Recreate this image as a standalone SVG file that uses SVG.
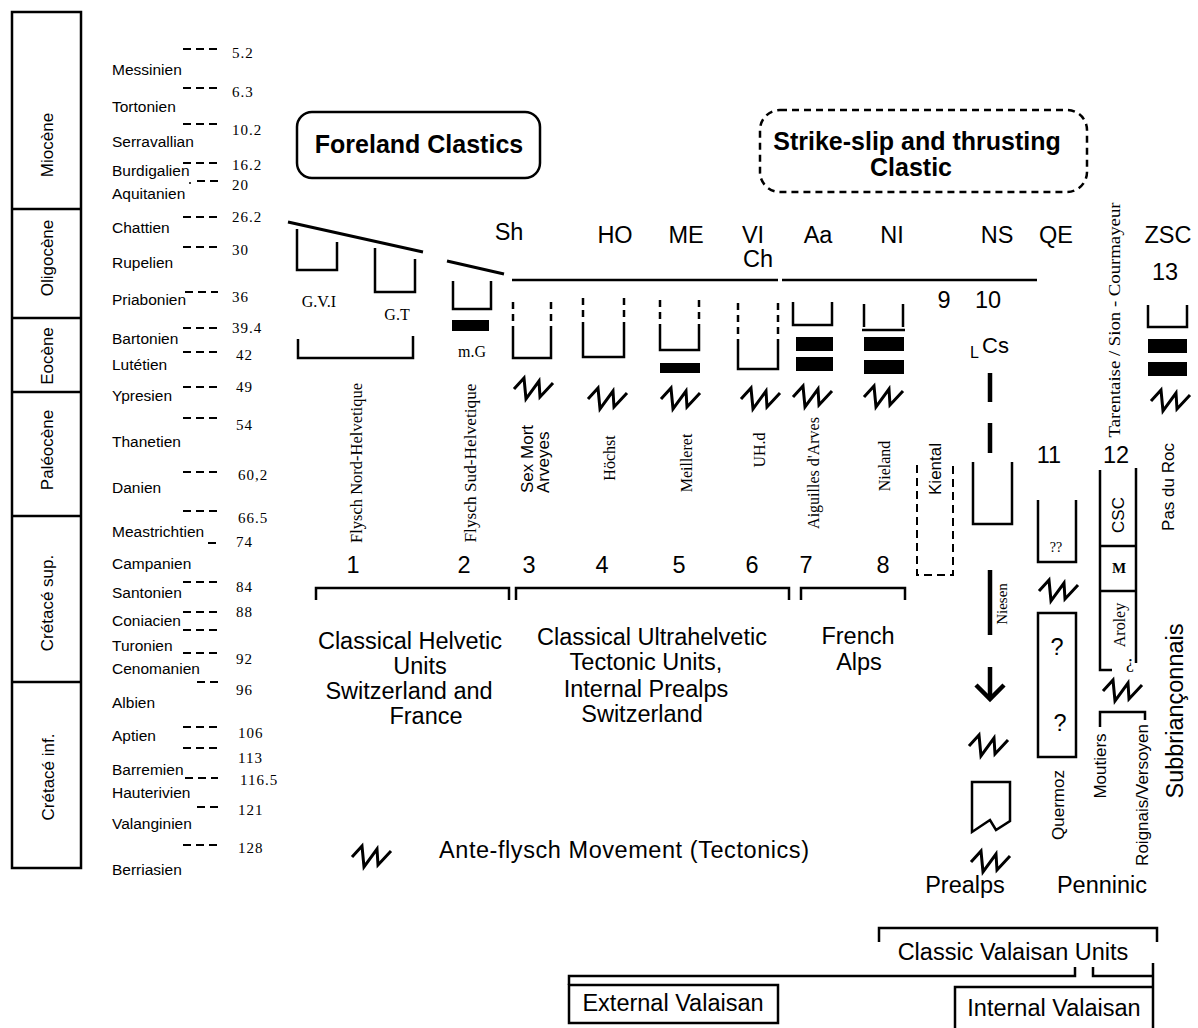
<svg xmlns="http://www.w3.org/2000/svg" width="1198" height="1028" viewBox="0 0 1198 1028">
<defs>
<style>
.s{font-family:"Liberation Sans",Arial,Helvetica,sans-serif;fill:#000}
.r{font-family:"Liberation Serif","Times New Roman",serif;fill:#000}
.st{font-size:15.5px}
.ag{font-size:15px;letter-spacing:1px}
.era{font-size:17px}
.lb{font-size:23.5px}
.vl{font-size:16px}
.vs{font-size:17px}
.ln{fill:none;stroke:#000;stroke-width:2.5}
.th{fill:none;stroke:#000;stroke-width:3}
.tk{fill:none;stroke:#000;stroke-width:4.5}
.dash{fill:none;stroke:#000;stroke-width:2.5;stroke-dasharray:7 5}
.ds{fill:none;stroke:#000;stroke-width:2;stroke-dasharray:8 5}
.bar{fill:#000}
</style>
<path id="zz" d="M1,14 L11,3 L13,24 L26,6 L27,22 L40,8" fill="none" stroke="#000" stroke-width="3"/>
</defs>
<rect width="1198" height="1028" fill="#fff"/>

<g id="time-scale">
<rect x="12" y="12" width="69" height="856" class="ln" stroke-width="2"/>
<path class="ln" stroke-width="2" d="M12,209H81M12,318H81M12,392H81M12,516H81M12,682H81"/>
<g class="s era" text-anchor="middle">
<text transform="translate(53,145) rotate(-90)">Miocène</text>
<text transform="translate(53,258) rotate(-90)">Oligocène</text>
<text transform="translate(53,356) rotate(-90)">Eocène</text>
<text transform="translate(53,450) rotate(-90)">Paléocène</text>
<text transform="translate(53,603) rotate(-90)">Crétacé sup.</text>
<text transform="translate(54,777) rotate(-90)">Crétacé inf.</text>
</g>
<g class="s st">
<text x="112" y="75">Messinien</text>
<text x="112" y="112">Tortonien</text>
<text x="112" y="147">Serravallian</text>
<text x="112" y="176">Burdigalien</text>
<text x="112" y="199">Aquitanien</text>
<text x="112" y="233">Chattien</text>
<text x="112" y="268">Rupelien</text>
<text x="112" y="305">Priabonien</text>
<text x="112" y="344">Bartonien</text>
<text x="112" y="370">Lutétien</text>
<text x="112" y="401">Ypresien</text>
<text x="112" y="447">Thanetien</text>
<text x="112" y="493">Danien</text>
<text x="112" y="537">Meastrichtien</text>
<text x="112" y="569">Campanien</text>
<text x="112" y="598">Santonien</text>
<text x="112" y="626">Coniacien</text>
<text x="112" y="651">Turonien</text>
<text x="112" y="674">Cenomanien</text>
<text x="112" y="708">Albien</text>
<text x="112" y="741">Aptien</text>
<text x="112" y="775">Barremien</text>
<text x="112" y="798">Hauterivien</text>
<text x="112" y="829">Valanginien</text>
<text x="112" y="875">Berriasien</text>
</g>
<path class="ds" d="M183,49h34M183,88h34M183,124h34M183,163h34M197,181h21M183,217h34M183,247h34M185,292h33M183,328h34M183,352h34M183,387h34M183,418h34M183,472h34M183,511h34M208,543h9M183,582h34M183,612h34M183,630h34M183,653h34M197,682h21M183,727h34M183,748h34M185,778h33M197,807h21M183,845h34"/>
<circle cx="190" cy="183" r="1" fill="#000"/>
<g class="r ag">
<text x="232" y="58">5.2</text>
<text x="232" y="97">6.3</text>
<text x="232" y="135">10.2</text>
<text x="232" y="170">16.2</text>
<text x="232" y="190">20</text>
<text x="232" y="222">26.2</text>
<text x="232" y="255">30</text>
<text x="232" y="302">36</text>
<text x="232" y="333">39.4</text>
<text x="236" y="360">42</text>
<text x="236" y="392">49</text>
<text x="236" y="430">54</text>
<text x="238" y="480">60,2</text>
<text x="238" y="523">66.5</text>
<text x="236" y="547">74</text>
<text x="236" y="592">84</text>
<text x="236" y="617">88</text>
<text x="236" y="664">92</text>
<text x="236" y="695">96</text>
<text x="238" y="738">106</text>
<text x="238" y="763">113</text>
<text x="240" y="785">116.5</text>
<text x="238" y="815">121</text>
<text x="238" y="853">128</text>
</g>
</g>

<g id="foreland-clastics">
<rect x="297" y="112" width="243" height="66" rx="15" class="ln"/>
<text class="s" x="419" y="153" font-size="25" font-weight="bold" text-anchor="middle">Foreland Clastics</text>
</g>

<g id="strike-slip">
<rect x="760" y="110" width="327" height="82" rx="20" class="dash"/>
<text class="s" x="917" y="150" font-size="25" font-weight="bold" text-anchor="middle">Strike-slip and thrusting</text>
<text class="s" x="911" y="176" font-size="25" font-weight="bold" text-anchor="middle">Clastic</text>
</g>

<g id="headers" class="s lb" text-anchor="middle">
<text x="509" y="240">Sh</text>
<text x="615" y="243">HO</text>
<text x="686" y="243">ME</text>
<text x="753" y="243">VI</text>
<text x="758" y="267">Ch</text>
<text x="818" y="243">Aa</text>
<text x="892" y="243">NI</text>
<text x="997" y="243">NS</text>
<text x="1056" y="243">QE</text>
<text x="1168" y="243">ZSC</text>
<text x="1165" y="280">13</text>
<text x="944" y="308">9</text>
<text x="988" y="308">10</text>
<text x="1049" y="463">11</text>
<text x="1116" y="463">12</text>
</g>

<g id="top-lines">
<path class="th" d="M288,222L423,252M447,261L504,274"/>
<path class="ln" d="M512,280H778M782,280H1037"/>
</g>

<g id="col1">
<path class="ln" d="M297,229V270H337V242M375,248V292H415V259M298,339V358H413V336"/>
<text class="r" x="319" y="307" font-size="16" text-anchor="middle">G.V.I</text>
<text class="r" x="397" y="320" font-size="16" text-anchor="middle">G.T</text>
<text class="r" transform="translate(362,463) rotate(-90)" font-size="16.5" text-anchor="middle" textLength="160" lengthAdjust="spacingAndGlyphs">Flysch Nord-Helvetique</text>
</g>

<g id="col2">
<path class="ln" d="M453,281V309H491V281"/>
<rect x="452" y="320" width="37" height="11" class="bar"/>
<text class="r" x="472" y="357" font-size="16" text-anchor="middle">m.G</text>
<text class="r" transform="translate(476,463) rotate(-90)" font-size="16.5" text-anchor="middle" textLength="159" lengthAdjust="spacingAndGlyphs">Flysch Sud-Helvetique</text>
</g>

<g id="col3">
<path class="dash" d="M513,302V330M551,302V330"/>
<path class="ln" d="M513,330V358H551V330"/>
<use href="#zz" x="513" y="375"/>
<text class="s vs" transform="translate(533,493) rotate(-90)">Sex Mort</text>
<text class="s vs" transform="translate(549,493) rotate(-90)">Arveyes</text>
</g>

<g id="col4">
<path class="dash" d="M583,298V327M624,298V327"/>
<path class="ln" d="M583,327V357H624V327"/>
<use href="#zz" x="587" y="385"/>
<text class="r vl" transform="translate(615,458) rotate(-90)" text-anchor="middle">Höchst</text>
</g>

<g id="col5">
<path class="dash" d="M660,300V327M699,300V327"/>
<path class="ln" d="M660,327V350H699V327"/>
<rect x="660" y="363" width="40" height="10" class="bar"/>
<use href="#zz" x="660" y="385"/>
<text class="r vl" transform="translate(692,463) rotate(-90)" text-anchor="middle">Meilleret</text>
</g>

<g id="col6">
<path class="dash" d="M738,303V343M778,303V343"/>
<path class="ln" d="M738,343V369H778V343"/>
<use href="#zz" x="740" y="385"/>
<text class="r vl" transform="translate(765,450) rotate(-90)" text-anchor="middle">UH.d</text>
</g>

<g id="col7">
<path class="ln" d="M793,302V325H832V302"/>
<rect x="796" y="337" width="37" height="14" class="bar"/>
<rect x="796" y="357" width="37" height="14" class="bar"/>
<use href="#zz" x="792" y="383"/>
<text class="r vl" transform="translate(819,473) rotate(-90)" text-anchor="middle">Aiguilles d'Arves</text>
</g>

<g id="col8">
<path class="ln" d="M864,304V327M903,304V327M862,330H905"/>
<rect x="864" y="337" width="40" height="14" class="bar"/>
<rect x="864" y="360" width="40" height="14" class="bar"/>
<use href="#zz" x="863" y="383"/>
<text class="r vl" transform="translate(890,466) rotate(-90)" text-anchor="middle">Nieland</text>
</g>

<g id="col9">
<path class="ds" d="M917,465V575H953V465"/>
<text class="s vs" transform="translate(941,469) rotate(-90)" text-anchor="middle">Kiental</text>
</g>

<g id="col10">
<text class="s" x="970" y="358" font-size="16">L</text>
<text class="s" x="982" y="353" font-size="22">Cs</text>
<path class="tk" d="M990,373V402M990,423V453M990,570V635M990,667V698"/>
<path class="tk" d="M976,685L990,699L1004,685"/>
<path class="ln" d="M973,462V524H1012V462"/>
<text class="r" transform="translate(1007,604) rotate(-90)" font-size="15" text-anchor="middle">Niesen</text>
<use href="#zz" x="968" y="732"/>
<path class="ln" d="M972,782H1010V821L996,830L990,820L972,832Z"/>
<use href="#zz" x="970" y="848"/>
</g>

<g id="col11">
<path class="ln" d="M1038,500V562H1076V500"/>
<text class="r" x="1056" y="552" font-size="14" text-anchor="middle">??</text>
<use href="#zz" x="1038" y="577"/>
<rect x="1038" y="613" width="38" height="144" class="ln"/>
<text class="s lb" x="1057" y="655" text-anchor="middle">?</text>
<text class="s lb" x="1060" y="731" text-anchor="middle">?</text>
<text class="s vs" transform="translate(1064,805) rotate(-90)" text-anchor="middle">Quermoz</text>
</g>

<g id="col12">
<text class="r" transform="translate(1120,320) rotate(-90)" font-size="16" text-anchor="middle" textLength="235" lengthAdjust="spacingAndGlyphs">Tarentaise / Sion - Courmayeur</text>
<path class="ln" d="M1100,470V670H1112M1136,468V663M1100,546H1136M1100,591H1136"/>
<text class="s vs" transform="translate(1124,515) rotate(-90)" text-anchor="middle">CSC</text>
<text class="r" x="1119" y="573" font-size="15" font-weight="bold" text-anchor="middle">M</text>
<text class="r vl" transform="translate(1125,625) rotate(-90)" text-anchor="middle">Aroley</text>
<text class="r" x="1130" y="668" font-size="18" text-anchor="middle">¿</text>
<use href="#zz" x="1102" y="677"/>
<path class="ln" d="M1100,727V712H1145V720"/>
<text class="s vs" transform="translate(1106,766) rotate(-90)" text-anchor="middle">Moutiers</text>
<text class="s vs" transform="translate(1148,795) rotate(-90)" text-anchor="middle">Roignais/Versoyen</text>
</g>

<g id="col13">
<path class="ln" d="M1148,305V327H1187V305"/>
<rect x="1148" y="339" width="39" height="14" class="bar"/>
<rect x="1148" y="362" width="39" height="14" class="bar"/>
<use href="#zz" x="1150" y="387"/>
<text class="s vs" transform="translate(1174,487) rotate(-90)" text-anchor="middle">Pas du Roc</text>
<text class="s lb" transform="translate(1183,711) rotate(-90)" text-anchor="middle">Subbriançonnais</text>
</g>

<g id="numbers" class="s lb" text-anchor="middle">
<text x="353" y="573">1</text>
<text x="464" y="573">2</text>
<text x="529" y="573">3</text>
<text x="602" y="573">4</text>
<text x="679" y="573">5</text>
<text x="752" y="573">6</text>
<text x="806" y="573">7</text>
<text x="883" y="573">8</text>
</g>

<g id="groupings">
<path class="ln" stroke-width="2" d="M316,600V588H509V600M516,600V588H789V600M801,600V588H905V600"/>
<g class="s lb" text-anchor="middle">
<text x="410" y="649">Classical Helvetic</text>
<text x="420" y="674">Units</text>
<text x="409" y="699">Switzerland and</text>
<text x="426" y="724">France</text>
<text x="652" y="645">Classical Ultrahelvetic</text>
<text x="646" y="670">Tectonic Units,</text>
<text x="646" y="697">Internal Prealps</text>
<text x="642" y="722">Switzerland</text>
<text x="858" y="644">French</text>
<text x="859" y="670">Alps</text>
<text x="965" y="893">Prealps</text>
<text x="1102" y="893">Penninic</text>
</g>
</g>

<g id="legend">
<use href="#zz" x="351" y="843"/>
<text class="s lb" x="439" y="858" textLength="370" lengthAdjust="spacing">Ante-flysch Movement (Tectonics)</text>
</g>

<g id="valaisan">
<path class="ln" stroke-width="2" d="M879,942V928H1157V942"/>
<text class="s lb" x="1013" y="960" text-anchor="middle">Classic Valaisan Units</text>
<path class="ln" stroke-width="2" d="M569,985V976H1075V967M1093,967V976H1153M1153,963V1028M955,1028V987H1153"/>
<rect x="569" y="985" width="209" height="38" class="ln" stroke-width="2"/>
<text class="s lb" x="673" y="1011" text-anchor="middle">External Valaisan</text>
<text class="s lb" x="1054" y="1016" text-anchor="middle">Internal Valaisan</text>
</g>
</svg>
